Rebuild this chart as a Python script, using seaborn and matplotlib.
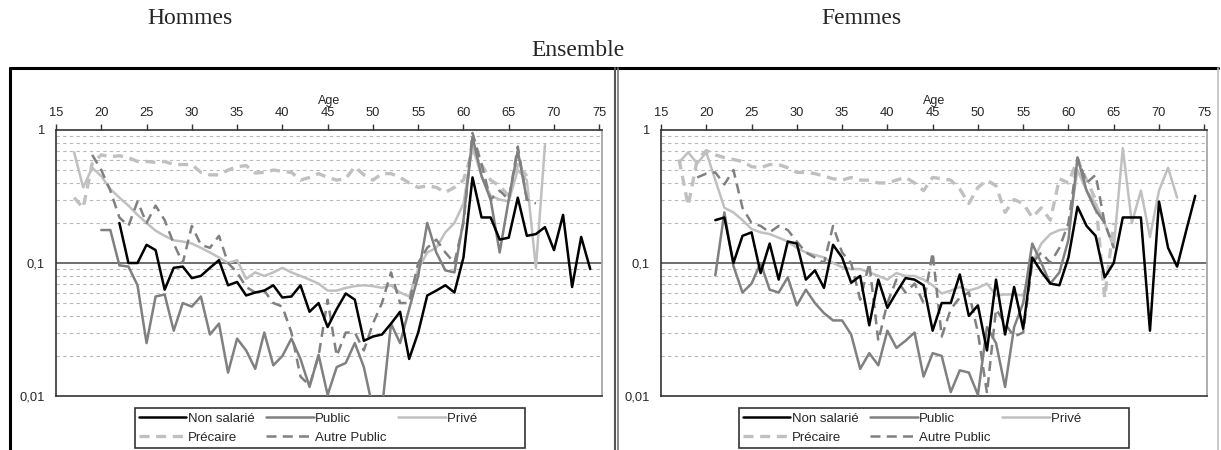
import numpy as np
import matplotlib
matplotlib.use("Agg")
import matplotlib.pyplot as plt
from matplotlib.lines import Line2D
from matplotlib.ticker import LogLocator, NullFormatter
import seaborn as sns

sns.set_style("white")
plt.rcParams['font.family'] = ['Liberation Sans', 'DejaVu Sans']

# ---- donnees (age de debut + valeurs annuelles) ----
# Hommes
h_nonsal_debut = 22
h_nonsal = [0.20, 0.10, 0.10, 0.137, 0.125, 0.063, 0.092, 0.094, 0.077, 0.080,
            0.092, 0.105, 0.068, 0.072, 0.057, 0.060, 0.062, 0.068, 0.055, 0.056,
            0.068, 0.043, 0.050, 0.033, 0.045, 0.059, 0.053, 0.026, 0.028, 0.029,
            0.035, 0.043, 0.019, 0.030, 0.057, 0.062, 0.068, 0.060, 0.11, 0.44,
            0.22, 0.22, 0.15, 0.155, 0.31, 0.16, 0.165, 0.186, 0.125, 0.23,
            0.066, 0.157, 0.09]
h_public_debut = 20
h_public = [0.177, 0.177, 0.096, 0.094, 0.068, 0.025, 0.056, 0.058, 0.031, 0.050,
            0.047, 0.056, 0.029, 0.035, 0.015, 0.027, 0.022, 0.016, 0.030, 0.017,
            0.020, 0.027, 0.019, 0.0117, 0.0204, 0.0102, 0.0165, 0.0177, 0.025, 0.0165,
            0.008, 0.008, 0.035, 0.025, 0.045, 0.08, 0.20, 0.12, 0.088, 0.085,
            0.21, 0.89, 0.45, 0.30, 0.12, 0.30, 0.70, 0.30]
h_prive_debut = 17
h_prive = [0.68, 0.37, 0.52, 0.45, 0.36, 0.31, 0.27, 0.23, 0.20, 0.175,
           0.16, 0.148, 0.145, 0.14, 0.13, 0.12, 0.11, 0.10, 0.105, 0.076,
           0.085, 0.08, 0.085, 0.092, 0.085, 0.08, 0.075, 0.07, 0.062, 0.062,
           0.065, 0.067, 0.068, 0.067, 0.065, 0.068, 0.06, 0.056, 0.09, 0.12,
           0.13, 0.17, 0.20, 0.28, 0.75, 0.45, 0.32, 0.30, 0.29, 0.50,
           0.42, 0.092, 0.77]
h_precaire_debut = 17
h_precaire = [0.31, 0.26, 0.56, 0.65, 0.63, 0.64, 0.62, 0.58, 0.58, 0.57,
              0.58, 0.55, 0.55, 0.55, 0.48, 0.46, 0.46, 0.50, 0.53, 0.54,
              0.475, 0.48, 0.50, 0.49, 0.48, 0.42, 0.44, 0.47, 0.44, 0.42,
              0.43, 0.53, 0.46, 0.42, 0.47, 0.47, 0.44, 0.40, 0.37, 0.38,
              0.37, 0.34, 0.37, 0.42, 0.70, 0.55, 0.42, 0.38, 0.32, 0.55, 0.45]
h_autre_debut = 19
h_autre = [0.65, 0.50, 0.35, 0.22, 0.19, 0.29, 0.20, 0.27, 0.21, 0.14,
           0.10, 0.19, 0.137, 0.13, 0.16, 0.10, 0.085, 0.066, 0.06, 0.062,
           0.05, 0.047, 0.03, 0.014, 0.012, 0.02, 0.053, 0.02, 0.03, 0.03,
           0.022, 0.035, 0.05, 0.085, 0.05, 0.05, 0.10, 0.13, 0.15, 0.12,
           0.10, 0.20, 0.95, 0.55, 0.30, 0.35, 0.30, 0.75, 0.30, 0.28]

# Femmes
f_nonsal_debut = 21
f_nonsal = [0.21, 0.22, 0.10, 0.16, 0.17, 0.084, 0.14, 0.075, 0.145, 0.14,
            0.075, 0.088, 0.065, 0.137, 0.11, 0.071, 0.08, 0.034, 0.075, 0.046,
            0.06, 0.077, 0.075, 0.068, 0.031, 0.05, 0.05, 0.082, 0.04, 0.048,
            0.022, 0.075, 0.029, 0.066, 0.032, 0.11, 0.086, 0.07, 0.068, 0.11,
            0.265, 0.19, 0.16, 0.078, 0.10, 0.22, 0.22, 0.22, 0.031, 0.29,
            0.13, 0.094, 0.175, 0.32]
f_public_debut = 21
f_public = [0.081, 0.24, 0.095, 0.06, 0.07, 0.10, 0.063, 0.06, 0.078, 0.048,
            0.063, 0.05, 0.042, 0.037, 0.037, 0.029, 0.016, 0.021, 0.017, 0.031,
            0.023, 0.026, 0.03, 0.014, 0.021, 0.02, 0.0107, 0.0156, 0.015, 0.0102,
            0.033, 0.025, 0.0117, 0.033, 0.05, 0.14, 0.10, 0.07, 0.085, 0.15,
            0.62, 0.35, 0.25, 0.20]
f_prive_debut = 17
f_prive = [0.57, 0.68, 0.56, 0.68, 0.42, 0.26, 0.24, 0.21, 0.18, 0.17,
           0.165, 0.155, 0.145, 0.13, 0.12, 0.115, 0.11, 0.10, 0.093, 0.09,
           0.09, 0.085, 0.08, 0.075, 0.084, 0.08, 0.08, 0.075, 0.068, 0.059,
           0.062, 0.066, 0.062, 0.065, 0.07, 0.057, 0.058, 0.058, 0.057, 0.10,
           0.14, 0.165, 0.177, 0.18, 0.50, 0.35, 0.28, 0.20, 0.13, 0.73,
           0.20, 0.35, 0.157, 0.35, 0.52, 0.31]
f_precaire_debut = 17
f_precaire = [0.60, 0.27, 0.60, 0.70, 0.65, 0.62, 0.60, 0.58, 0.53, 0.52,
              0.55, 0.55, 0.52, 0.48, 0.48, 0.47, 0.45, 0.43, 0.42, 0.44,
              0.42, 0.42, 0.40, 0.40, 0.42, 0.44, 0.40, 0.35, 0.44, 0.43,
              0.42, 0.36, 0.28, 0.37, 0.42, 0.38, 0.24, 0.30, 0.28, 0.22,
              0.26, 0.21, 0.43, 0.40, 0.60, 0.42, 0.30, 0.055, 0.20]
f_autre_debut = 19
f_autre = [0.44, 0.47, 0.48, 0.39, 0.50, 0.26, 0.20, 0.19, 0.17, 0.19,
           0.177, 0.145, 0.12, 0.11, 0.10, 0.19, 0.12, 0.10, 0.053, 0.10,
           0.026, 0.05, 0.075, 0.06, 0.07, 0.05, 0.12, 0.028, 0.045, 0.055,
           0.06, 0.03, 0.0105, 0.045, 0.035, 0.028, 0.03, 0.10, 0.12, 0.10,
           0.13, 0.20, 0.62, 0.40, 0.46, 0.20, 0.13]

noms = ["Non salarié", "Public", "Privé", "Précaire", "Autre Public"]
styles = {
    "Non salarié": dict(color="black", lw=1.8, ls="-"),
    "Public": dict(color="#808080", lw=1.8, ls="-"),
    "Privé": dict(color="#c0c0c0", lw=1.8, ls="-"),
    "Précaire": dict(color="#c0c0c0", lw=2.4, ls=(0, (3, 2))),
    "Autre Public": dict(color="#808080", lw=1.8, ls=(0, (4, 2.5))),
}

hommes = {
    "Non salarié": (h_nonsal_debut, h_nonsal),
    "Public": (h_public_debut, h_public),
    "Privé": (h_prive_debut, h_prive),
    "Précaire": (h_precaire_debut, h_precaire),
    "Autre Public": (h_autre_debut, h_autre),
}
femmes = {
    "Non salarié": (f_nonsal_debut, f_nonsal),
    "Public": (f_public_debut, f_public),
    "Privé": (f_prive_debut, f_prive),
    "Précaire": (f_precaire_debut, f_precaire),
    "Autre Public": (f_autre_debut, f_autre),
}

W, H = 1221, 450
fig = plt.figure(figsize=(W / 100, H / 100), dpi=100)
ax_h = fig.add_axes([56 / W, 1 - 396 / H, 546 / W, 266 / H])
ax_f = fig.add_axes([661 / W, 1 - 396 / H, 546 / W, 266 / H])


def panneau(ax, series):
    # ordre de trace : le noir par dessus
    for nom in ["Précaire", "Privé", "Autre Public", "Public", "Non salarié"]:
        debut, vals = series[nom]
        ages = np.arange(debut, debut + len(vals))
        st = styles[nom]
        sns.lineplot(x=ages, y=vals, ax=ax, color=st["color"], linewidth=st["lw"],
                     linestyle=st["ls"], errorbar=None, legend=False, zorder=3)
    ax.set_yscale("log")
    ax.set_ylim(0.01, 1)
    ax.set_xlim(15, 75.3)
    ax.yaxis.set_minor_locator(LogLocator(base=10, subs=np.arange(2, 10)))
    ax.yaxis.set_minor_formatter(NullFormatter())
    ax.grid(False)
    ax.grid(True, which="minor", axis="y", color="#b8b8b8", lw=0.8, ls=(0, (3, 3)))
    ax.axhline(0.1, color="#555555", lw=1.2, zorder=2)
    ax.set_yticks([0.01, 0.1, 1])
    ax.set_yticklabels(["0,01", "0,1", "1"])
    ax.xaxis.tick_top()
    ax.xaxis.set_label_position("top")
    ax.set_xticks(range(15, 76, 5))
    ax.set_xlabel("Age", fontsize=9, labelpad=2)
    ax.set_ylabel("")
    ax.tick_params(axis="both", which="major", labelsize=9.3, length=4, width=1,
                   color="#333333", direction="out", pad=4)
    ax.tick_params(axis="y", which="minor", length=0)
    for s in ["top", "left", "bottom"]:
        ax.spines[s].set_color("#333333")
        ax.spines[s].set_linewidth(1.2)
    ax.spines["right"].set_color("#a0a0a0")
    ax.spines["right"].set_linewidth(1.2)


panneau(ax_h, hommes)
panneau(ax_f, femmes)

# legendes (rempli par colonnes : ordre reorganise pour lire en lignes)
ordre = ["Non salarié", "Précaire", "Public", "Autre Public", "Privé"]
# la derniere colonne est large dans l'original : on rallonge le libelle
libelles = [n if n != "Privé" else n + " " * 12 for n in ordre]
poignees = [Line2D([], [], color=styles[n]["color"], lw=styles[n]["lw"],
                   ls=styles[n]["ls"]) for n in ordre]
for x0 in [135, 739]:
    leg = fig.legend(poignees, libelles, ncol=3, loc="lower left",
                     bbox_to_anchor=(x0 / W, 2 / H, 390 / W, 42 / H), mode="expand",
                     frameon=True, fancybox=False, edgecolor="black", fontsize=9.5,
                     handlelength=3.6, handletextpad=0.1, borderpad=0.3,
                     labelspacing=0.55, borderaxespad=0)
    leg.get_frame().set_linewidth(1.2)

# titres
serif = ["Liberation Serif", "DejaVu Serif"]
fig.text(190 / W, 1 - 19 / H, "Hommes", ha="center", va="center", family=serif, fontsize=17)
fig.text(861 / W, 1 - 19 / H, "Femmes", ha="center", va="center", family=serif, fontsize=17)
fig.text(578 / W, 1 - 50 / H, "Ensemble", ha="center", va="center", family=serif, fontsize=17)

# cadres autour des deux graphiques
def trait(x, y, c, lw):
    fig.add_artist(Line2D([v / W for v in x], [1 - v / H for v in y],
                          color=c, lw=lw, transform=fig.transFigure))

trait([10, 1218], [68, 68], "black", 2.2)
trait([10, 10], [68, 450], "black", 2.2)
trait([615, 615], [68, 450], "#555555", 1.5)
trait([618, 618], [68, 450], "#777777", 1.2)
trait([1218, 1218], [68, 450], "#c0c0c0", 1.2)

fig.savefig("out.png", dpi=100)
